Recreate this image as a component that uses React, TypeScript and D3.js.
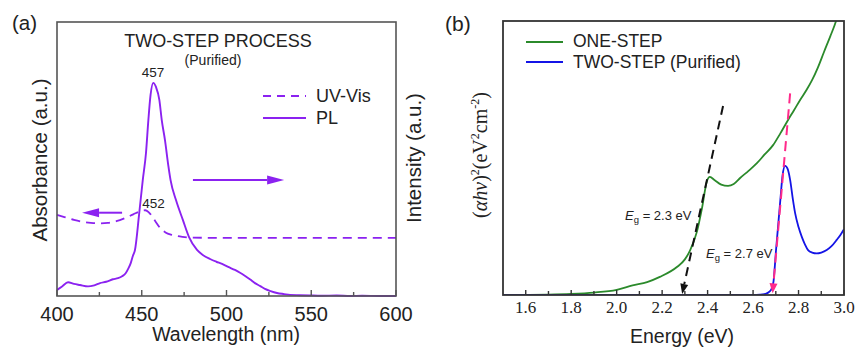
import React from 'react'
import * as d3 from 'd3'

// ---- panel (a): two-step process, UV-Vis + PL ----
const plWavelength = [400, 403, 406.5, 410, 413.6, 418.3, 422, 425.4, 429, 433, 436, 438.4, 440.5, 441.9, 443.5, 444.8, 446, 448.4, 450.6, 452.5, 453.9, 455.2, 456.8, 458.4, 460.4, 461.8, 463.7, 465.7, 467, 470.2, 474.3, 477.9, 482.6, 486, 490.3, 494, 497.4, 501, 505, 508, 511, 514, 516.8, 520, 522.7, 526, 529.8, 534, 537.5, 543, 549, 556, 565, 573, 580, 590, 600]
const plIntensity = [2.2, 3.5, 5.0, 4.4, 4.0, 3.5, 3.9, 4.7, 5.2, 6.1, 6.5, 7.2, 8.3, 9.8, 12.0, 14.7, 16.8, 29.6, 42.3, 52.2, 64.2, 73.4, 77.8, 76.3, 71.5, 64.2, 56.9, 47.5, 42.3, 35, 27.7, 21.5, 16.8, 15.0, 13.5, 12.5, 11.7, 10.6, 9.5, 8.5, 7.3, 6.0, 4.7, 3.6, 2.6, 1.8, 1.1, 0.7, 0.4, 0.3, 0.2, 0.1, 0.2, 0, 0.1, 0, 0]

const uvWavelength = [400, 405, 410, 415, 420, 425, 430, 435, 440, 445, 449, 452, 455, 458, 461, 464, 468, 474, 480, 500, 600]
const uvAbsorbance = [29.6, 28.7, 27.8, 27.1, 26.7, 26.5, 26.7, 27.3, 28.4, 29.8, 30.9, 31.3, 30.0, 27.3, 24.7, 23.2, 22.3, 21.6, 21.3, 21.2, 21.2]

const wlTicks = [400, 450, 500, 550, 600]
const wlMinorTicks = [425, 475, 525, 575]

// ---- panel (b): Tauc plot ----
const oneStepEnergy = [1.5, 1.6, 1.7, 1.8, 1.9, 2.0, 2.07, 2.134, 2.19, 2.265, 2.3, 2.323, 2.354, 2.375, 2.397, 2.41, 2.43, 2.46, 2.49, 2.515, 2.543, 2.58, 2.618, 2.65, 2.688, 2.72, 2.754, 2.78, 2.807, 2.835, 2.86, 2.885, 2.912, 2.94, 2.965, 3.0]
const oneStepValue = [0, 0.05, 0.15, 0.4, 0.9, 1.9, 3.5, 4.7, 6.6, 10.2, 13, 16.3, 23.4, 31.5, 41.5, 43.1, 42.0, 40.3, 39.8, 40.5, 42.7, 45.3, 48.2, 51.2, 54.7, 59, 63.9, 67.4, 71.2, 74.8, 78.5, 83, 88.7, 94.5, 100, 112]

const twoStepEnergy = [1.5, 2.6, 2.63, 2.655, 2.672, 2.683, 2.69, 2.701, 2.72, 2.73, 2.741, 2.752, 2.763, 2.775, 2.785, 2.8, 2.814, 2.828, 2.842, 2.86, 2.88, 2.9, 2.924, 2.945, 2.968, 2.985, 3.0]
const twoStepValue = [0, 0, 0.1, 0.4, 1.2, 2.5, 5, 16.4, 34.7, 43.8, 47.1, 46, 42, 35, 29.9, 24.8, 21.3, 18.5, 16.4, 15.5, 15.2, 15.5, 16.4, 17.8, 20.1, 22, 24]

const energyTicks = [1.6, 1.8, 2.0, 2.2, 2.4, 2.6, 2.8, 3.0]
const energyMinorTicks = [1.7, 1.9, 2.1, 2.3, 2.5, 2.7, 2.9]

// tangent lines [energy, value] from top to arrow tip
const fitOneStep = [[2.468, 69], [2.288, 0.4]]
const fitTwoStep = [[2.763, 73.6], [2.686, 0.6]]

const SANS = "'Liberation Sans', Arial, sans-serif"
const SERIF = "'Liberation Serif', 'Times New Roman', 'DejaVu Serif', serif"
const PURPLE = '#8b22f0'
const GREEN = '#2b8a2b'
const BLUE = '#1414e6'
const PINK = '#ff2a8a'

function arrow(x1: number, y1: number, x2: number, y2: number, head: number, half: number) {
  const dx = x2 - x1
  const dy = y2 - y1
  const len = Math.sqrt(dx * dx + dy * dy)
  const ux = dx / len
  const uy = dy / len
  const bx = x2 - ux * head
  const by = y2 - uy * head
  const tri = `M${x2},${y2}L${bx - uy * half},${by + ux * half}L${bx + uy * half},${by - ux * half}Z`
  return { shaft: [bx, by], tri }
}

function PanelA() {
  const x = d3.scaleLinear().domain([400, 600]).range([57, 396])
  const y = d3.scaleLinear().domain([0, 100]).range([296, 22])
  const line = d3.line<[number, number]>().x(d => x(d[0])).y(d => y(d[1])).curve(d3.curveMonotoneX)
  const pl = line(plWavelength.map((w, i) => [w, plIntensity[i]]))!
  const uv = line(uvWavelength.map((w, i) => [w, uvAbsorbance[i]]))!

  const rA = arrow(x(480.2), y(42.3), x(534), y(42.3), 17, 4.5)
  const lA = arrow(x(438.4), y(30.4), x(414.8), y(30.4), 17, 4.5)

  return (
    <g fontFamily={SANS}>
      <text x={12} y={30} fontSize={20.5} fill="#222">(a)</text>
      <path d={uv} fill="none" stroke={PURPLE} strokeWidth={1.8} strokeDasharray="9,6" />
      <path d={pl} fill="none" stroke={PURPLE} strokeWidth={1.9} />
      {/* arrows */}
      <line x1={x(480.2)} y1={y(42.3)} x2={rA.shaft[0]} y2={rA.shaft[1]} stroke={PURPLE} strokeWidth={2} />
      <path d={rA.tri} fill={PURPLE} />
      <line x1={x(438.4)} y1={y(30.4)} x2={lA.shaft[0]} y2={lA.shaft[1]} stroke={PURPLE} strokeWidth={2} />
      <path d={lA.tri} fill={PURPLE} />
      {/* peak labels */}
      <text x={x(456.6)} y={y(80)} fontSize={13.5} textAnchor="middle" fill="#222">457</text>
      <text x={x(457)} y={y(32)} fontSize={13.5} textAnchor="middle" fill="#222">452</text>
      {/* title */}
      <text x={218} y={47} fontSize={18} textAnchor="middle" fill="#222">TWO-STEP PROCESS</text>
      <text x={213} y={65} fontSize={14} textAnchor="middle" fill="#222">(Purified)</text>
      {/* legend */}
      <line x1={263} x2={306} y1={96} y2={96} stroke={PURPLE} strokeWidth={1.8} strokeDasharray="8,6" />
      <text x={316} y={102} fontSize={18} fill="#222">UV-Vis</text>
      <line x1={263} x2={306} y1={118} y2={118} stroke={PURPLE} strokeWidth={1.8} />
      <text x={316} y={124} fontSize={18} fill="#222">PL</text>
      {/* frame */}
      <rect x={57} y={22} width={339} height={274} fill="none" stroke="#555" strokeWidth={1.6} />
      {wlTicks.map(t => (
        <g key={t}>
          <line x1={x(t)} x2={x(t)} y1={296} y2={290} stroke="#555" strokeWidth={1.4} />
          <text x={x(t)} y={320.5} fontSize={20} textAnchor="middle" fill="#222">{t}</text>
        </g>
      ))}
      {wlMinorTicks.map(t => (
        <line key={t} x1={x(t)} x2={x(t)} y1={296} y2={292} stroke="#555" strokeWidth={1.4} />
      ))}
      <text x={226} y={341} fontSize={19.5} textAnchor="middle" fill="#222">Wavelength (nm)</text>
      <text transform="translate(47,160) rotate(-90)" fontSize={20.5} textAnchor="middle" fill="#222">Absorbance (a.u.)</text>
      <text transform="translate(421,158) rotate(-90)" fontSize={20.5} textAnchor="middle" fill="#222">Intensity (a.u.)</text>
    </g>
  )
}

function PanelB() {
  const x = d3.scaleLinear().domain([1.5, 3.0]).range([503, 844])
  const y = d3.scaleLinear().domain([0, 100]).range([295, 21])
  const line = d3.line<[number, number]>().x(d => x(d[0])).y(d => y(d[1])).curve(d3.curveMonotoneX)
  const green = line(oneStepEnergy.map((e, i) => [e, oneStepValue[i]]))!
  const blue = line(twoStepEnergy.map((e, i) => [e, twoStepValue[i]]))!

  const fits = [
    { pts: fitOneStep, color: '#111' },
    { pts: fitTwoStep, color: PINK },
  ].map(f => {
    const a = arrow(x(f.pts[0][0]), y(f.pts[0][1]), x(f.pts[1][0]), y(f.pts[1][1]), 10, 4)
    return { ...f, a }
  })

  return (
    <g>
      <defs>
        <clipPath id="clipB">
          <rect x={503} y={21} width={341} height={274} />
        </clipPath>
      </defs>
      <text x={445} y={31} fontSize={21} fontFamily={SANS} fill="#222">(b)</text>
      <g clipPath="url(#clipB)">
        <path d={green} fill="none" stroke={GREEN} strokeWidth={1.8} />
        <path d={blue} fill="none" stroke={BLUE} strokeWidth={1.8} />
      </g>
      {fits.map((f, i) => (
        <g key={i}>
          <line x1={x(f.pts[0][0])} y1={y(f.pts[0][1])} x2={f.a.shaft[0]} y2={f.a.shaft[1]}
            stroke={f.color} strokeWidth={2} strokeDasharray={i === 0 ? '9,6' : '10,6'} />
          <path d={f.a.tri} fill={f.color} />
        </g>
      ))}
      <text x={x(2.037)} y={y(27.4)} fontSize={13} fontFamily={SANS} fill="#222">
        <tspan fontStyle="italic">E</tspan><tspan fontSize={9.5} dy={3}>g</tspan><tspan dy={-3}> = 2.3 eV</tspan>
      </text>
      <text x={x(2.393)} y={y(13.5)} fontSize={13} fontFamily={SANS} fill="#222">
        <tspan fontStyle="italic">E</tspan><tspan fontSize={9.5} dy={3}>g</tspan><tspan dy={-3}> = 2.7 eV</tspan>
      </text>
      {/* legend */}
      <line x1={526} x2={563} y1={42} y2={42} stroke={GREEN} strokeWidth={1.8} />
      <text x={573} y={47} fontSize={17.5} fontFamily={SANS} fill="#222">ONE-STEP</text>
      <line x1={526} x2={563} y1={62} y2={62} stroke={BLUE} strokeWidth={1.8} />
      <text x={573} y={68} fontSize={17.5} fontFamily={SANS} fill="#222">TWO-STEP (Purified)</text>
      {/* frame + axis */}
      <rect x={503} y={21} width={341} height={274} fill="none" stroke="#333" strokeWidth={1.8} />
      {energyTicks.map(t => (
        <g key={t}>
          <line x1={x(t)} x2={x(t)} y1={295} y2={290} stroke="#333" strokeWidth={1.4} />
          <text x={x(t)} y={312.5} fontSize={17} fontFamily={SERIF} textAnchor="middle" fill="#222">{t.toFixed(1)}</text>
        </g>
      ))}
      {energyMinorTicks.map(t => (
        <line key={t} x1={x(t)} x2={x(t)} y1={295} y2={291} stroke="#333" strokeWidth={1.4} />
      ))}
      <text x={682} y={343} fontSize={19.5} fontFamily={SANS} textAnchor="middle" fill="#222">Energy (eV)</text>
      <text transform="translate(487,155) rotate(-90)" fontSize={20} fontFamily={SERIF} textAnchor="middle" fill="#222">
        <tspan>(</tspan><tspan fontStyle="italic">αhν</tspan><tspan>)</tspan>
        <tspan fontSize={12} dy={-8}>2</tspan><tspan dy={8}>(eV</tspan>
        <tspan fontSize={12} dy={-8}>2</tspan><tspan dy={8}>cm</tspan>
        <tspan fontSize={12} dy={-8}>-2</tspan><tspan dy={8}>)</tspan>
      </text>
    </g>
  )
}

export default function App() {
  return (
    <svg width={855} height={348} style={{ position: 'absolute', left: 0, top: 0, background: '#fff' }}>
      <rect width={855} height={348} fill="#fff" />
      <PanelA />
      <PanelB />
    </svg>
  )
}
